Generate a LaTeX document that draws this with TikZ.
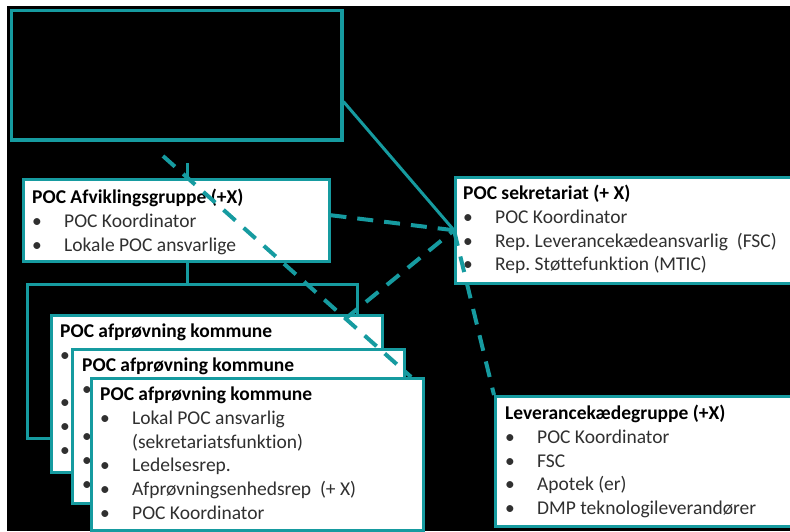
\documentclass[tikz,border=0pt]{standalone}
\usepackage{fontspec}
\setmainfont{Carlito}[Ligatures=NoCommon]
\usetikzlibrary{calc}
\definecolor{teal1}{RGB}{22,155,160}
\definecolor{txt}{RGB}{48,48,48}
\newcommand\bul[1]{\makebox[32pt][l]{\textbullet}#1}
\newcommand\ttl[1]{{\color{black}\bfseries #1}}
\frenchspacing
\begin{document}
\begin{tikzpicture}[x=1pt,y=-1pt,
  panel/.style={draw=teal1, line width=2.5pt, fill=white, anchor=north west, inner sep=0pt},
  boxtext/.style={anchor=north west, inner sep=0pt, align=left, text=txt, font=\fontsize{19.5}{23.7}\selectfont},
  conn/.style={draw=teal1, line width=3pt},
  dconn/.style={draw=teal1, line width=4pt, dash pattern=on 16pt off 11pt}]
\useasboundingbox (0,0) rectangle (790,531);
\fill[white] (0,0) rectangle (790,531);
\fill[black] (7,6) rectangle (790,531);
\begin{scope}
\clip (7,6) rectangle (790,531);
% top box
\node[draw=teal1, line width=3.5pt, fill=black, anchor=north west, inner sep=0pt,
      minimum width=330.5pt, minimum height=129.5pt] (top) at (9.5,8.5) {};
% Afvikling
\node[panel, minimum width=306pt, minimum height=82pt] (afv) at (22,178) {};
\node[boxtext] (afvT) at ($(afv.north west)+(10,11)$)
  {\ttl{POC Afviklingsgruppe (+X)}\\ \bul{POC Koordinator}\\ \bul{Lokale POC ansvarlige}};
% stubs
\coordinate (stub) at (187,163);
\draw[conn] (stub) -- (stub |- afv.north);
% back frame
\node[draw=teal1, line width=2.5pt, fill=black, anchor=north west, inner sep=0pt,
      minimum width=330pt, minimum height=154pt] (frame) at (26,283) {};
\draw[conn] (afv.south -| stub) -- (stub |- frame.north);
% cards (the two back cards show only their title and bullets)
\node[panel, minimum width=331pt, minimum height=157pt] (c1) at (50,314) {};
\node[boxtext] (c1T) at ($(c1.north west)+(10,10)$)
  {\ttl{POC afprøvning kommune}\\ \textbullet\\ \strut\\ \textbullet\\ \textbullet\\ \textbullet};
\node[panel, minimum width=332pt, minimum height=154pt] (c2) at (71,348) {};
\node[boxtext] (c2T) at ($(c2.north west)+(11,10)$)
  {\ttl{POC afprøvning kommune}\\ \textbullet\\ \strut\\ \textbullet\\ \textbullet\\ \textbullet};
\node[panel, minimum width=332pt, minimum height=152pt] (c3) at (90,377) {};
\node[boxtext] (c3T) at ($(c3.north west)+(10,10)$)
  {\ttl{POC afprøvning kommune}\\ \bul{Lokal POC ansvarlig}\\ \makebox[32pt]{}(sekretariatsfunktion)\\
   \bul{Ledelsesrep.}\\ \bul{Afprøvningsenhedsrep~ (+ X)}\\ \bul{POC Koordinator}};
% sekretariat
\node[panel, minimum width=346pt, minimum height=106pt] (sek) at (454,176) {};
\node[boxtext] (sekT) at ($(sek.north west)+(9,9)$)
  {\ttl{POC sekretariat (+ X)}\\ \bul{POC Koordinator}\\ \bul{Rep. Leverancekædeansvarlig~ (FSC)}\\ \bul{Rep. Støttefunktion (MTIC)}};
% leverance
\node[panel, minimum width=306pt, minimum height=130pt] (lev) at (494,395) {};
\node[boxtext] (levT) at ($(lev.north west)+(11,10)$)
  {\ttl{Leverancekædegruppe (+X)}\\ \bul{POC Koordinator}\\ \bul{FSC}\\ \bul{Apotek (er)}\\ \bul{DMP teknologileverandører}};
% connectors
\draw[conn] ($(top.north east)!0.7!(top.south east)$) -- (sek.west);
\coordinate (d1s) at (163,156);
\coordinate (d3s) at (345,319);
\draw[dconn] (d1s) -- ($(c3.north west)!0.96!(c3.north east)$);
\draw[dconn] ($(afv.north east)!0.44!(afv.south east)$) -- (sek.west);
\draw[dconn] (d3s) -- (sek.west);
\draw[dconn] (sek.west) -- (lev.north west);
\end{scope}
\end{tikzpicture}
\end{document}
